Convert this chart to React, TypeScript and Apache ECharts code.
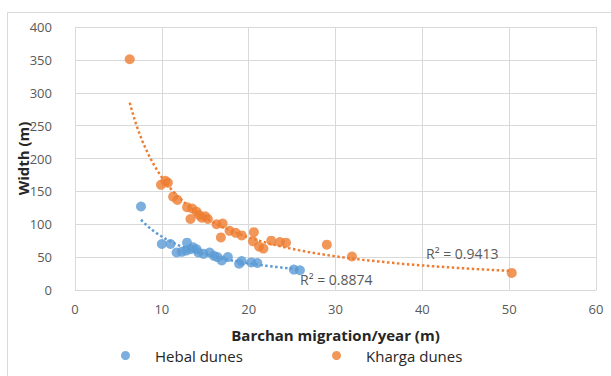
import React, { useEffect, useRef } from "react";
import * as echarts from "echarts";

const hebalX = [7.6, 10.0, 11.0, 11.7, 12.3, 12.8, 12.9, 13.3, 13.6, 14.0, 14.2, 14.8, 15.5, 16.0, 16.4, 16.9, 17.6, 18.9, 19.2, 20.3, 21.0, 25.2, 25.9];
const hebalY = [127, 70, 70, 57, 58, 60, 72, 62, 65, 62, 57, 55, 57, 52, 50, 45, 50, 40, 44, 42, 41, 31, 30];

const khargaX = [6.3, 9.9, 10.4, 10.7, 11.3, 11.8, 12.9, 13.5, 13.3, 14.0, 14.3, 14.6, 15.0, 15.3, 16.3, 17.0, 16.8, 17.8, 18.5, 19.2, 20.6, 20.5, 21.2, 21.7, 22.6, 23.6, 24.3, 29.0, 31.9, 50.3];
const khargaY = [351, 160, 166, 163, 142, 137, 126, 124, 108, 119, 114, 110, 112, 108, 100, 101, 80, 90, 87, 83, 88, 74, 66, 63, 75, 73, 72, 69, 51, 26];

const xTicks = [0, 10, 20, 30, 40, 50, 60];
const yTicks = [0, 50, 100, 150, 200, 250, 300, 350, 400];

const seriesNames = ["Hebal dunes", "Kharga dunes"];
const r2Labels = ["R² = 0.8874", "R² = 0.9413"];

const BLUE = "#5B9BD5";
const ORANGE = "#ED7D31";
const FONT = "'Open Sans', sans-serif";

function powerFit(xs: number[], ys: number[]) {
  const n = xs.length;
  let sx = 0, sy = 0, sxx = 0, sxy = 0;
  for (let i = 0; i < n; i++) {
    const lx = Math.log(xs[i]);
    const ly = Math.log(ys[i]);
    sx += lx; sy += ly; sxx += lx * lx; sxy += lx * ly;
  }
  const b = (n * sxy - sx * sy) / (n * sxx - sx * sx);
  const a = Math.exp((sy - b * sx) / n);
  return { a, b };
}

function trendPoints(xs: number[], ys: number[]) {
  const { a, b } = powerFit(xs, ys);
  const lo = Math.min(...xs);
  const hi = Math.max(...xs);
  const pts: number[][] = [];
  const steps = 120;
  for (let i = 0; i <= steps; i++) {
    const x = lo + ((hi - lo) * i) / steps;
    pts.push([x, a * Math.pow(x, b)]);
  }
  return pts;
}

export default function App() {
  const ref = useRef<HTMLDivElement>(null);
  useEffect(() => {
    if (!ref.current) return;
    const chart = echarts.init(ref.current, null, { renderer: "svg" });
    const hebal = hebalX.map((x, i) => [x, hebalY[i]]);
    const kharga = khargaX.map((x, i) => [x, khargaY[i]]);
    const axisLabel = { color: "#595959", fontSize: 13, fontFamily: FONT };
    const gridLine = { lineStyle: { color: "#d9d9d9", width: 1 } };
    const legendText = { color: "#262626", fontSize: 15, fontFamily: FONT, padding: [0, 0, 0, 20] };
    chart.setOption({
      animation: false,
      backgroundColor: "#ffffff",
      grid: { left: 75, right: 15, top: 27, bottom: 86, containLabel: false },
      xAxis: {
        type: "value",
        min: xTicks[0],
        max: xTicks[xTicks.length - 1],
        interval: 10,
        axisLine: { show: true, lineStyle: { color: "#d9d9d9" } },
        axisTick: { show: false },
        splitLine: { show: true, ...gridLine },
        axisLabel: { ...axisLabel, margin: 12 },
        name: "Barchan migration/year (m)",
        nameLocation: "middle",
        nameGap: 37,
        nameMoveOverlap: false,
        nameTextStyle: { color: "#262626", fontSize: 15, fontWeight: "bold", fontFamily: FONT },
      },
      yAxis: {
        type: "value",
        min: yTicks[0],
        max: yTicks[yTicks.length - 1],
        interval: 50,
        axisLine: { show: false },
        axisTick: { show: false },
        splitLine: { show: true, ...gridLine },
        axisLabel: { ...axisLabel, margin: 23 },
        name: "Width (m)",
        nameLocation: "middle",
        nameGap: 45,
        nameMoveOverlap: false,
        nameTextStyle: { color: "#262626", fontSize: 15, fontWeight: "bold", fontFamily: FONT },
      },
      legend: [
        {
          data: [seriesNames[0]],
          left: 116,
          top: 343,
          itemWidth: 9,
          itemHeight: 9,
          itemGap: 0,
          textStyle: legendText,
        },
        {
          data: [seriesNames[1]],
          left: 327,
          top: 343,
          itemWidth: 9,
          itemHeight: 9,
          itemGap: 0,
          textStyle: legendText,
        },
      ],
      graphic: [
        {
          type: "rect",
          shape: { x: 7.5, y: 12.5, width: 800, height: 600 },
          style: { fill: "none", stroke: "#d9d9d9", lineWidth: 1 },
          silent: true,
          z: -1,
        },
        {
          type: "text",
          left: 300,
          top: 272,
          style: { text: r2Labels[0], fill: "#595959", fontSize: 14, fontFamily: FONT },
          z: 10,
        },
        {
          type: "text",
          left: 426,
          top: 246,
          style: { text: r2Labels[1], fill: "#595959", fontSize: 14, fontFamily: FONT },
          z: 10,
        },
      ],
      series: [
        {
          name: seriesNames[0],
          type: "scatter",
          data: hebal,
          symbol: "circle",
          symbolSize: 10,
          itemStyle: { color: BLUE },
          z: 3,
        },
        {
          name: seriesNames[1],
          type: "scatter",
          data: kharga,
          symbol: "circle",
          symbolSize: 10,
          itemStyle: { color: ORANGE },
          z: 3,
        },
        {
          name: "hebalTrend",
          type: "line",
          data: trendPoints(hebalX, hebalY),
          showSymbol: false,
          symbol: "none",
          smooth: false,
          lineStyle: { color: BLUE, width: 2.5, type: [2.5, 2.5] },
          z: 2,
          silent: true,
        },
        {
          name: "khargaTrend",
          type: "line",
          data: trendPoints(khargaX, khargaY),
          showSymbol: false,
          symbol: "none",
          smooth: false,
          lineStyle: { color: ORANGE, width: 2.5, type: [2.5, 2.5] },
          z: 2,
          silent: true,
        },
      ],
    });
    return () => chart.dispose();
  }, []);
  return (
    <div
      ref={ref}
      style={{ position: "fixed", left: 0, top: 0, width: 611, height: 376 }}
    />
  );
}
